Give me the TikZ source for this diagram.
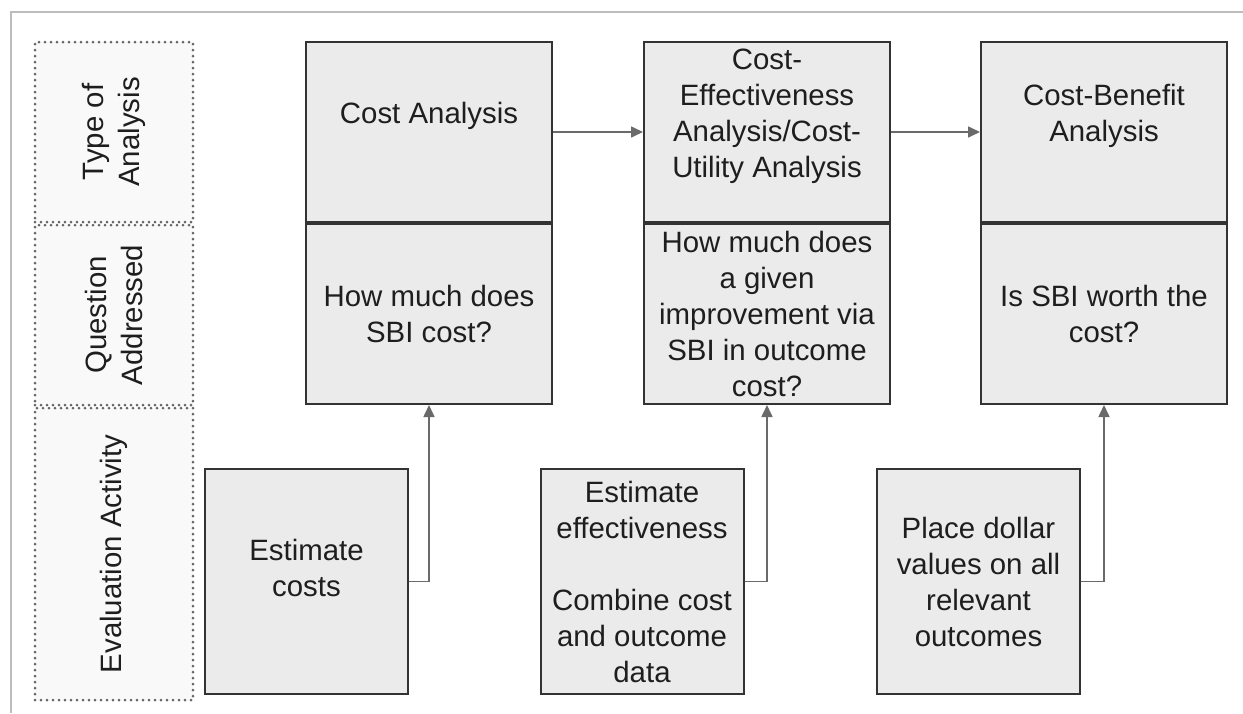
\documentclass[tikz,border=0pt]{standalone}
\usepackage{fontspec}
\setmainfont{Liberation Sans}
\usetikzlibrary{
	arrows.meta,
	positioning
}
\definecolor{boxfill}{HTML}{EBEBEB}
\definecolor{boxline}{HTML}{333333}
\definecolor{dotline}{HTML}{666666}
\definecolor{dotfill}{HTML}{F9F9F9}
\definecolor{arrowgray}{HTML}{6A6A6A}
\definecolor{framegray}{HTML}{BDBDBD}
\definecolor{txt}{HTML}{1E1E1E}

\begin{document}
\begin{tikzpicture}[
  x=0.5pt, y=-0.5pt,
  every node/.style={font=\fontsize{14.7pt}{18pt}\selectfont, text=txt},
  fila/.style={rectangle, draw=dotline, fill=dotfill, line width=1.5pt,
    dash pattern=on 0pt off 3pt, line cap=round, minimum width=79pt, inner sep=0pt},
  seccion/.style={rectangle, draw=boxline, fill=boxfill, line width=1pt,
    minimum width=123pt, minimum height=90pt, align=center, inner sep=0pt},
  actividad/.style={rectangle, draw=boxline, fill=boxfill, line width=1pt,
    minimum width=101.5pt, minimum height=112.5pt, align=center, inner sep=0pt},
  lbl/.style={align=center, inner sep=0pt},
  flecha/.style={-{Triangle[length=6pt, width=5.5pt]}, draw=arrowgray, line width=0.8pt}
]
\useasboundingbox (0,0) rectangle (1243,713);
\draw[framegray, line width=0.6pt] (11,713) -- (11,12) -- (1243,12);

% row headers
\node[fila, minimum height=90pt] (tipo) at (114,132) {};
\node[fila, minimum height=90pt, below=0pt of tipo] (pregunta) {};
\node[fila, minimum height=146pt, below=0pt of pregunta] (evaluacion) {};
\node[lbl, rotate=90] at (tipo) {Type of\\Analysis};
\node[lbl, rotate=90] at (pregunta) {Question\\Addressed};
\node[lbl, rotate=90] at (evaluacion) {Evaluation Activity};

% analysis columns
\node[seccion] (costo) at (429,132) {};
\node[seccion, right=45pt of costo] (efect) {};
\node[seccion, right=44.5pt of efect] (benef) {};
\node[seccion, below=0pt of costo] (costoq) {How much does\\SBI cost?};
\node[seccion, below=0pt of efect] (efectq) {How much does\\a given\\improvement via\\SBI in outcome\\cost?};
\node[seccion, below=0pt of benef] (benefq) {Is SBI worth the\\cost?};
\node[lbl] at ([yshift=8pt]costo.center) {Cost Analysis};
\node[lbl] at ([yshift=8pt]efect.center) {Cost-\\Effectiveness\\Analysis/Cost-\\Utility Analysis};
\node[lbl] at ([yshift=8pt]benef.center) {Cost-Benefit\\Analysis};

% evaluation activities
\node[actividad] (estimar) at (306.5,581.5) {};
\node[actividad] (combinar) at (642,581.5) {Estimate\\effectiveness\\[18pt]Combine cost\\and outcome\\data};
\node[actividad] (valores) at (978.5,581.5) {Place dollar\\values on all\\relevant\\outcomes};
\node[lbl] at ([yshift=7pt]estimar.center) {Estimate\\costs};

\draw[flecha] (costo) -- (efect);
\draw[flecha] (efect) -- (benef);
\draw[flecha] (estimar.east) -| (costoq.south);
\draw[flecha] (combinar.east) -| (efectq.south);
\draw[flecha] (valores.east) -| (benefq.south);
\end{tikzpicture}
\end{document}
